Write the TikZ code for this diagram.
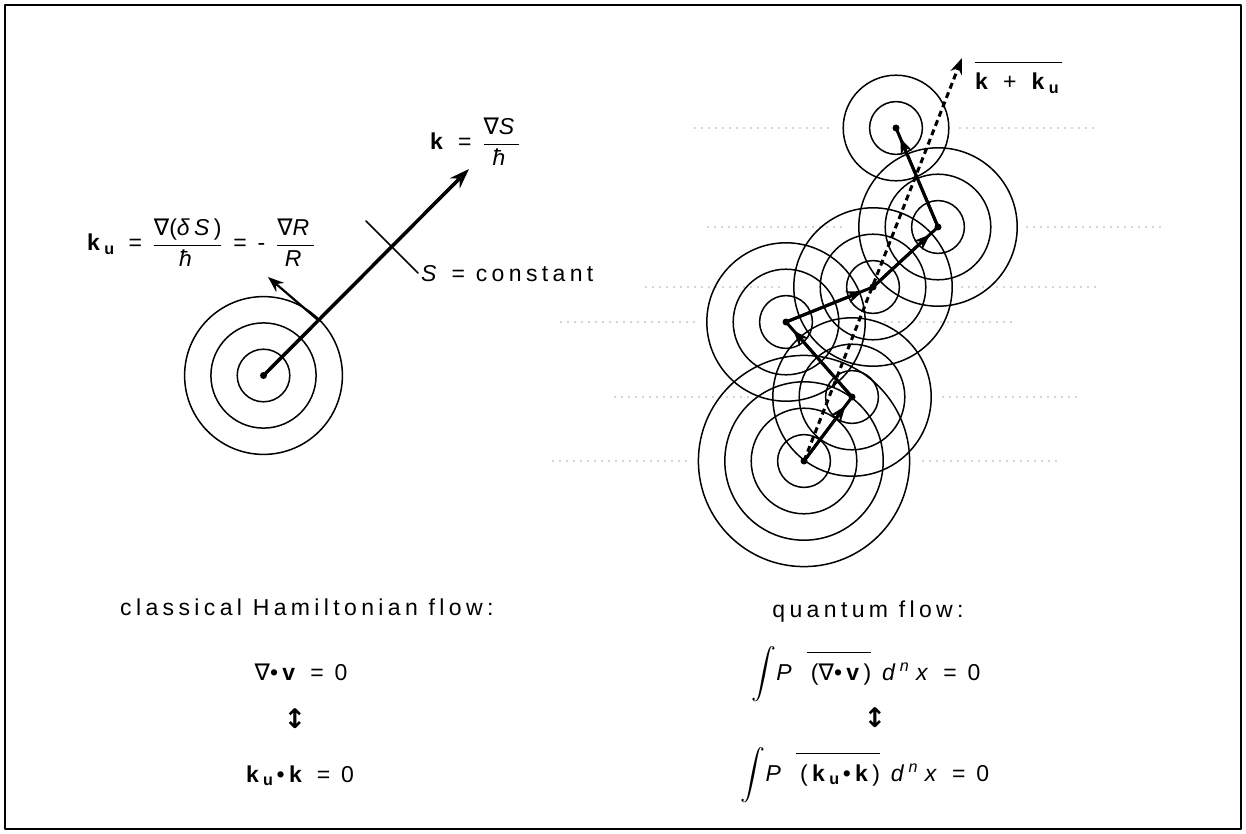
\RequirePackage{fix-cm}
\documentclass[tikz,border=0pt]{standalone}
\usepackage{amsmath}
\usepackage{fontspec}
\setmainfont[LetterSpace=19]{Liberation Sans}
\newfontfamily\symfont[LetterSpace=19]{DejaVu Sans}
\usetikzlibrary{calc,arrows.meta}

\newcommand{\vk}{\textbf{k}}
\newcommand{\vku}{\textbf{k}\textsubscript{\textbf{u}}}
\newcommand{\hbi}{\textit{ħ}}
\newcommand{\nab}{{\symfont ∇}}
\newcommand{\tallbar}{\rule{0pt}{24pt}}
\newcommand{\updn}{{\fontsize{27}{30}\symfont\bfseries ↕}}

\begin{document}
\begin{tikzpicture}[
    x=1pt, y=-1pt,
    >=stealth,
    line cap=round,
    line join=round,
    ring/.style={line width=1.5pt},
    guide/.style={line width=1.2pt, black!70, dash pattern=on 0pt off 7pt},
    flow/.style={line width=3pt},
    flowhead/.style={line width=3pt, -{Stealth[length=16pt,width=12pt]}},
    meanflow/.style={line width=3pt, line cap=butt, dash pattern=on 6pt off 4pt,
        -{Stealth[length=16pt,width=12pt]}},
    lbl/.style={font=\fontsize{23}{27}\selectfont, inner sep=0pt}
]

\useasboundingbox (0,0) rectangle (1246,834);

%------------------------------------------------
% Frame
%------------------------------------------------
\draw[line width=1.8pt] (5,5) rectangle (1241,829);

%------------------------------------------------
% Classical particle: wave fronts and wave vectors
%------------------------------------------------
\coordinate (O) at (263.5,375.5);
\foreach \r in {1,2,3}
    \draw[ring] (O) circle[radius=26.3pt*\r];
\fill (O) circle[radius=3.5pt];

\coordinate (K) at (469,169);
\draw[line width=3.5pt, -{Stealth[length=20pt,width=14pt]}] (O) -- (K);

\coordinate (P) at (318,320);
\coordinate (Q) at (268,277);
\draw[line width=2.2pt, -{Stealth[length=16pt,width=12pt]}] (P) -- (Q);

% surface S = constant
\coordinate (L1) at (366,221);
\coordinate (L2) at (418,273);
\draw[line width=1.5pt] (L1) -- (L2);

\node[lbl, anchor=base west] (kgrad) at (430,150)
    {\vk{} = $\dfrac{\text{\nab\textit{S}}}{\text{\hbi}}$};
\node[lbl, anchor=base west] (kuterm) at (87,251)
    {\vku{} = $\dfrac{\text{\nab(\textit{δS})}}{\text{\hbi}}$ = - $\dfrac{\text{\nab\textit{R}}}{\text{\textit{R}}}$};
\node[lbl, anchor=base west] (scon) at (421,281) {\textit{S} = constant};

%------------------------------------------------
% Quantum flow: chain of wave packets
%------------------------------------------------
\coordinate (A) at (804,461);
\coordinate (C) at (852,397);
\coordinate (B) at (786,322);
\coordinate (M) at (873,287);
\coordinate (D) at (938,227);
\coordinate (T) at (896,128);

% dotted levels
\draw[guide] (553,461) -- (689,461);  \draw[guide] (923,461) -- (1059,461);
\draw[guide] (615,397) -- (750,397);  \draw[guide] (943,397) -- (1079,397);
\draw[guide] (561,322) -- (699,322);  \draw[guide] (885,322) -- (1015,322);
\draw[guide] (646,287) -- (784,287);  \draw[guide] (962,287) -- (1100,287);
\draw[guide] (708,227) -- (848,227);  \draw[guide] (1027,227) -- (1163,227);
\draw[guide] (695,128) -- (833,128);  \draw[guide] (960,128) -- (1100,128);

% wave fronts
\foreach \p/\n in {A/4,C/3,B/3,M/3,D/3,T/2}{
    \foreach \r in {1,...,\n}
        \draw[ring] (\p) circle[radius=26.4pt*\r];
    \fill (\p) circle[radius=3.5pt];
}

% zig-zag steps
\foreach \s/\t in {A/C,C/B,B/M,M/D,D/T}{
    \draw[flow] (\s) -- (\t);
    \draw[flowhead] (\s) -- ($(\t)!11pt!(\s)$);
}

% mean flow
\coordinate (E) at (962,58);
\draw[meanflow] (A) -- (E);
\node[lbl, anchor=base west] (kmean) at (975,90)
    {$\overline{\tallbar\text{\vk{} + \vku}}$};

%------------------------------------------------
% Conditions below
%------------------------------------------------
\node[lbl, anchor=base west] (chead) at (120,615) {classical Hamiltonian flow:};
\node[lbl, anchor=base] (cdiv) at (301,680) {\nab•\textbf{v} = 0};
\node[lbl] (cequiv) at (295,719) {\updn};
\node[lbl, anchor=base] (corth) at (300,782) {\vku•\vk{} = 0};

\node[lbl, anchor=base] (qhead) at (868,617) {quantum flow:};
\node[lbl, anchor=base] (qdiv) at (866,680)
    {$\displaystyle\int$\textit{P} $\overline{\tallbar\text{\kern4pt(\nab•\textbf{v})}}$ \textit{d}\textsuperscript{\textit{n}}\,\textit{x} = 0};
\node[lbl] (qequiv) at (875,718) {\updn};
\node[lbl, anchor=base] (qorth) at (865,781)
    {$\displaystyle\int$\textit{P} $\overline{\tallbar\text{\kern4pt(\vku•\vk)}}$ \textit{d}\textsuperscript{\textit{n}}\,\textit{x} = 0};

\end{tikzpicture}
\end{document}
